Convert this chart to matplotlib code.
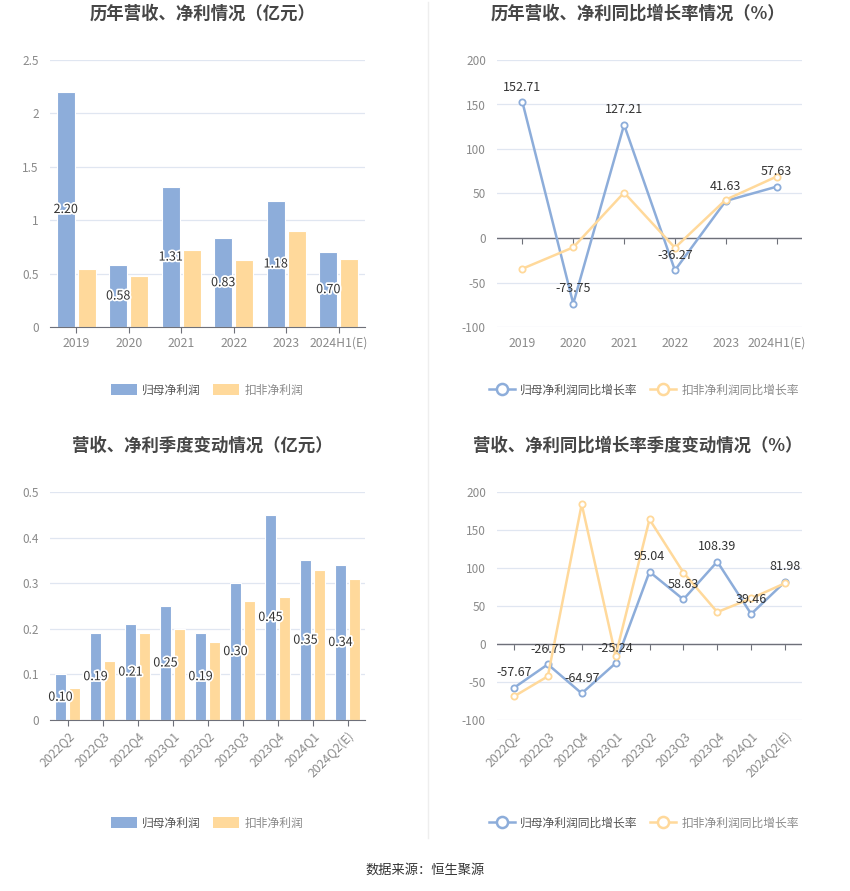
import numpy as np
import matplotlib
matplotlib.use('Agg')
import matplotlib.pyplot as plt
from matplotlib.lines import Line2D
from matplotlib.patches import Patch
import matplotlib.patheffects as pe
from matplotlib.ticker import FuncFormatter

plt.rcParams['font.family'] = ['Noto Sans CJK SC', 'DejaVu Sans']

# annual data (亿元)
years = ['2019', '2020', '2021', '2022', '2023', '2024H1(E)']
net_profit = [2.20, 0.58, 1.31, 0.83, 1.18, 0.70]
deducted_profit = [0.54, 0.48, 0.72, 0.63, 0.90, 0.64]

# annual growth (%)
net_growth = [152.71, -73.75, 127.21, -36.27, 41.63, 57.63]
deducted_growth = [-34.5, -10.5, 51.0, -11.0, 43.0, 69.0]

# quarterly data (亿元)
quarters = ['2022Q2', '2022Q3', '2022Q4', '2023Q1', '2023Q2', '2023Q3', '2023Q4', '2024Q1', '2024Q2(E)']
q_net_profit = [0.10, 0.19, 0.21, 0.25, 0.19, 0.30, 0.45, 0.35, 0.34]
q_deducted_profit = [0.07, 0.13, 0.19, 0.20, 0.17, 0.26, 0.27, 0.33, 0.31]

# quarterly growth (%)
q_net_growth = [-57.67, -26.75, -64.97, -25.24, 95.04, 58.63, 108.39, 39.46, 81.98]
q_deducted_growth = [-69.0, -42.5, 184.0, -15.5, 164.0, 94.0, 42.0, 60.0, 80.0]

BLUE = '#8dadda'
ORANGE = '#ffd99b'
GRID = '#e0e6f1'
AXIS = '#6e7079'
TICK = '#8a8a8a'

W, H = 850, 891
fig = plt.figure(figsize=(W / 100, H / 100), dpi=100)


def box(x0, y0, x1, y1):
    return [x0 / W, 1 - y1 / H, (x1 - x0) / W, (y1 - y0) / H]


def style_axes(ax, ticks):
    for s in ['left', 'right', 'top']:
        ax.spines[s].set_visible(False)
    ax.set_yticks(ticks)
    ax.yaxis.set_major_formatter(FuncFormatter(lambda v, p: f'{v:g}'))
    ax.tick_params(axis='y', length=0, labelsize=8.5, labelcolor=TICK, pad=8)
    ax.grid(axis='y', color=GRID, linewidth=0.9)
    ax.set_axisbelow(True)


def bar_chart(rect, cats, a, b, ymax, step, title, rotate):
    ax = fig.add_axes(box(*rect))
    x = np.arange(len(cats))
    ax.bar(x - 0.2, a, 0.34, color=BLUE, edgecolor='white', linewidth=0.8, zorder=2)
    ax.bar(x + 0.2, b, 0.34, color=ORANGE, edgecolor='white', linewidth=0.8, zorder=2)
    for xi, v in zip(x, a):
        ax.text(xi - 0.2, v / 2, f'{v:.2f}', ha='center', va='center', fontsize=9,
                color='#333333', zorder=3,
                path_effects=[pe.withStroke(linewidth=2.5, foreground='white')])
    ax.set_xlim(-0.5, len(cats) - 0.5)
    ax.set_ylim(0, ymax)
    style_axes(ax, np.arange(0, ymax + step / 2, step))
    ax.spines['bottom'].set_color(AXIS)
    ax.set_xticks(x)
    if rotate:
        ax.set_xticklabels(cats, rotation=45, ha='right', rotation_mode='anchor')
    else:
        ax.set_xticklabels(cats)
    ax.tick_params(axis='x', length=4, color=AXIS, labelsize=8.8, labelcolor=TICK, pad=3)
    cx = (rect[0] + rect[2]) / 2 - 5
    fig.text(cx / W, 1 - (rect[1] - 46) / H, title, ha='center', va='center',
             fontsize=12.5, fontweight='bold', color='#464646')
    handles = [Patch(facecolor=BLUE, edgecolor='none'), Patch(facecolor=ORANGE, edgecolor='none')]
    return ax, handles


def line_chart(rect, cats, a, b, title, rotate):
    ax = fig.add_axes(box(*rect))
    x = np.arange(len(cats))
    ax.plot(x, a, color=BLUE, linewidth=1.8, marker='o', markersize=4.5,
            markerfacecolor='white', markeredgewidth=1.3, zorder=3)
    ax.plot(x, b, color=ORANGE, linewidth=1.8, marker='o', markersize=4.5,
            markerfacecolor='white', markeredgewidth=1.3, zorder=4)
    for xi, v in zip(x, a):
        ax.annotate(f'{v:.2f}', (xi, v), xytext=(0, 6), textcoords='offset points',
                    ha='center', va='bottom', fontsize=9, color='#333333', zorder=5)
    ax.set_xlim(-0.5, len(cats) - 0.5)
    ax.set_ylim(-100, 200)
    style_axes(ax, np.arange(-100, 201, 50))
    ax.spines['bottom'].set_visible(False)
    ax.axhline(0, color=AXIS, linewidth=1, zorder=2)
    ax.set_xticks(x)
    if rotate:
        ax.set_xticklabels(cats, rotation=45, ha='right', rotation_mode='anchor')
    else:
        ax.set_xticklabels(cats)
    ax.tick_params(axis='x', length=0, labelsize=8.8, labelcolor=TICK, pad=7)
    sec = ax.secondary_xaxis(1 / 3)
    sec.set_xticks(x)
    sec.set_xticklabels([])
    sec.spines['bottom'].set_visible(False)
    sec.tick_params(axis='x', length=4, color=AXIS, direction='out')
    cx = (rect[0] + rect[2]) / 2 - 12
    fig.text(cx / W, 1 - (rect[1] - 46) / H, title, ha='center', va='center',
             fontsize=12.5, fontweight='bold', color='#464646')
    handles = [Line2D([], [], color=BLUE, linewidth=1.8, marker='o', markersize=8,
                      markerfacecolor='white', markeredgewidth=1.8),
               Line2D([], [], color=ORANGE, linewidth=1.8, marker='o', markersize=8,
                      markerfacecolor='white', markeredgewidth=1.8)]
    return ax, handles


def legend(ax, handles, labels, cx, cy):
    leg = ax.legend(handles, labels, loc='center', bbox_to_anchor=(cx / W, 1 - cy / H),
                    bbox_transform=fig.transFigure, ncol=2, frameon=False, fontsize=8.5,
                    handlelength=2.2, handleheight=1.0,
                    columnspacing=1.1, handletextpad=0.4)
    for t, c in zip(leg.get_texts(), ['#555555', '#8a8a8a']):
        t.set_color(c)


ax1, h1 = bar_chart((50, 60, 365, 327), years, net_profit, deducted_profit, 2.5, 0.5,
                    '历年营收、净利情况（亿元）', False)
legend(ax1, h1, ['归母净利润', '扣非净利润'], 207, 390)

ax2, h2 = line_chart((497, 60, 802, 327), years, net_growth, deducted_growth,
                     '历年营收、净利同比增长率情况（%）', False)
legend(ax2, h2, ['归母净利润同比增长率', '扣非净利润同比增长率'], 644, 390)

ax3, h3 = bar_chart((50, 492, 365, 720), quarters, q_net_profit, q_deducted_profit, 0.5, 0.1,
                    '营收、净利季度变动情况（亿元）', True)
legend(ax3, h3, ['归母净利润', '扣非净利润'], 207, 823)

ax4, h4 = line_chart((497, 492, 802, 720), quarters, q_net_growth, q_deducted_growth,
                     '营收、净利同比增长率季度变动情况（%）', True)
legend(ax4, h4, ['归母净利润同比增长率', '扣非净利润同比增长率'], 644, 823)

# divider
fig.add_artist(Line2D([428 / W, 428 / W], [1 - 2 / H, 1 - 838 / H],
                      transform=fig.transFigure, color='#eeeeee', linewidth=1))

fig.text(425 / W, 1 - 870 / H, '数据来源：恒生聚源', ha='center', va='center',
         fontsize=9.5, color='#333333')

fig.savefig('out.png', dpi=100, facecolor='white')
